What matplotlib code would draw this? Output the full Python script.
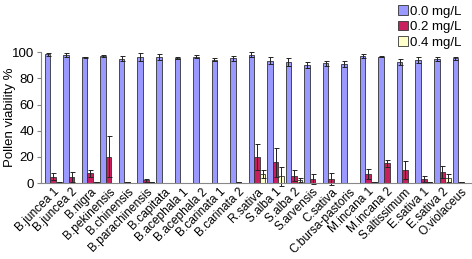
import matplotlib
matplotlib.use('Agg')
import matplotlib.pyplot as plt
import numpy as np

plt.rcParams['font.family'] = ['Liberation Sans', 'DejaVu Sans']

species = ['B.juncea 1', 'B.juncea 2', 'B.nigra', 'B.pekinensis', 'B.chinensis',
           'B.parachinensis', 'B.capitata', 'B.acephala 1', 'B.acephala 2',
           'B.carinata 1', 'B.carinata 2', 'R.sativa', 'S.alba 1', 'S.alba 2',
           'S.arvensis', 'C.sativa', 'C.bursa-pastoris', 'M.incana 1', 'M.incana 2',
           'S.altissimum', 'E.sativa 1', 'E.sativa 2', 'O.violaceus']

# 0.0 mg/L
v00 = [98.6, 98.0, 96.3, 97.3, 95.2, 96.5, 96.5, 95.5, 96.8, 94.3, 95.3, 98.3,
       93.5, 92.3, 90.2, 91.7, 91.2, 97.3, 96.8, 92.7, 94.0, 94.8, 95.5]
e00 = [1.2, 1.2, 0.4, 0.8, 1.8, 2.8, 2.2, 0.8, 0.8, 1.2, 2.0, 1.8,
       2.8, 3.0, 2.2, 1.8, 2.2, 1.5, 0.5, 2.5, 2.2, 1.8, 1.2]
# 0.2 mg/L
v02 = [5.0, 4.8, 7.5, 20.3, 0.8, 2.0, 0, 0, 0, 0, 0.5, 20.0,
       16.0, 5.8, 3.2, 3.2, 0, 7.0, 15.0, 10.0, 3.2, 8.6, 0.6]
e02 = [3.0, 4.0, 2.5, 16.0, 0.3, 1.5, 0, 0, 0, 0, 0.2, 10.0,
       11.0, 4.0, 3.5, 4.5, 0, 4.0, 3.0, 7.0, 2.5, 4.5, 0.3]
# 0.4 mg/L
v04 = [0.5, 0, 0.5, 0.4, 0, 0.6, 0, 0, 0, 0.2, 0, 6.8,
       5.2, 2.5, 0, 0, 0, 0.5, 0, 0, 0.8, 4.0, 0]
e04 = [0, 0, 0, 0, 0, 0, 0, 0, 0, 0, 0, 3.2,
       7.5, 1.5, 0, 0, 0, 0, 0, 0, 0, 3.0, 0]

fig = plt.figure(figsize=(4.72, 2.59), dpi=100)
ax = fig.add_axes([0.087, 0.293, 0.911, 0.505])

x = np.arange(len(species))
w = 0.3
ekw = dict(ecolor='#222222', elinewidth=0.7, capsize=1.8, capthick=0.7)
b1 = ax.bar(x - w, v00, w, yerr=e00, color='#9999ff', edgecolor='#333333',
            linewidth=0.6, error_kw=ekw, label='0.0 mg/L')
b2 = ax.bar(x, v02, w, yerr=e02, color='#c8205e', edgecolor='#333333',
            linewidth=0.6, error_kw=ekw, label='0.2 mg/L')
b3 = ax.bar(x + w, v04, w, yerr=e04, color='#ffffcc', edgecolor='#333333',
            linewidth=0.6, error_kw=ekw, label='0.4 mg/L')
for b in (b1, b2, b3):
    for ln in b.errorbar.lines[1] + b.errorbar.lines[2]:
        ln.set_clip_on(False)

ax.set_xlim(-0.65, len(species) - 0.45)
ax.set_ylim(0, 100)
ax.set_yticks([0, 20, 40, 60, 80, 100])
ax.tick_params(axis='y', labelsize=9.5, length=3, color='#888888', pad=2)
ax.set_xticks(x)
ax.set_xticklabels(species, rotation=45, ha='right', va='top',
                   rotation_mode='anchor', fontsize=8.6)
ax.tick_params(axis='x', length=0, pad=2)
for s in ('top', 'right'):
    ax.spines[s].set_visible(False)
ax.spines['left'].set_color('#888888')
ax.spines['bottom'].set_color('#888888')
ax.set_ylabel('Pollen viability %', fontsize=9.5)
ax.yaxis.set_label_coords(-0.058, 0.5)

fig.legend(handles=[b1, b2, b3], loc='upper right', bbox_to_anchor=(0.995, 1.01),
           frameon=False, fontsize=9.5, handlelength=0.7, handleheight=0.7,
           handletextpad=0.2, labelspacing=0.25, borderaxespad=0.2)

fig.savefig('out.png', dpi=100)
